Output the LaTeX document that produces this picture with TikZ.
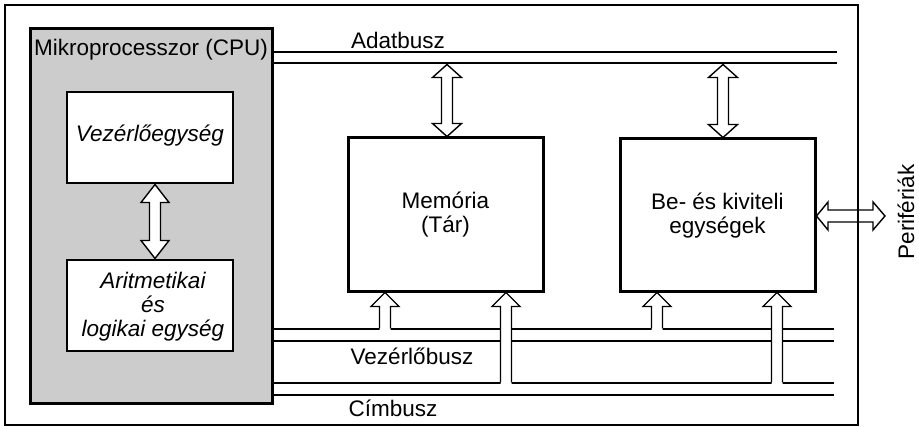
\documentclass[tikz,border=0pt]{standalone}
\usepackage{fontspec}
\setmainfont{Liberation Sans}
\begin{document}
\begin{tikzpicture}[x=1pt,y=-1pt,
  frame/.style={line width=1.5pt},
  cpubox/.style={draw,line width=3pt,fill=black!20},
  unitbox/.style={draw,line width=2.6pt,fill=white},
  busline/.style={line width=1.5pt},
  blk/.style={line width=1.4pt,line join=miter},
  lbl/.style={font=\fontsize{22.5}{24}\selectfont,inner sep=0pt},
  ilbl/.style={font=\fontsize{22.5}{24}\selectfont\itshape,inner sep=0pt,align=center}]
\useasboundingbox (0,0) rectangle (919,427);
\newcommand{\vdblarrow}[5]{% cx, ytop, ybot, headlen, halfwidth
  \filldraw[blk,fill=white] (#1,#2) -- (#1+#5,#2+#4) -- (#1+5.5,#2+#4) -- (#1+5.5,#3-#4)
   -- (#1+#5,#3-#4) -- (#1,#3) -- (#1-#5,#3-#4) -- (#1-5.5,#3-#4) -- (#1-5.5,#2+#4)
   -- (#1-#5,#2+#4) -- cycle;}
\newcommand{\upblkarrow}[3]{% cx, ytip, ybus
  \fill[white] (#1-5.5,#3+0.9) -- (#1-5.5,#2+14) -- (#1-14,#2+14) -- (#1,#2) -- (#1+14,#2+14)
   -- (#1+5.5,#2+14) -- (#1+5.5,#3+0.9) -- cycle;
  \draw[blk] (#1-5.5,#3-0.5) -- (#1-5.5,#2+14) -- (#1-14,#2+14) -- (#1,#2) -- (#1+14,#2+14)
   -- (#1+5.5,#2+14) -- (#1+5.5,#3-0.5);}
% outer frame
\draw[frame] (5,5) rectangle (858,425);
% CPU
\node[cpubox,minimum width=242pt,minimum height=375pt,inner sep=0pt] (cpu) at (151,216.5) {};
\node[lbl,anchor=west] (cputitle) at (34,50) {Mikroprocesszor (CPU)};
\node[unitbox,minimum width=166pt,minimum height=91pt,inner sep=0pt] (vez) at (150,137.5) {};
\node[ilbl] (veztext) at (150,136) {Vezérlőegység};
\node[unitbox,minimum width=166pt,minimum height=91pt,inner sep=0pt] (alu) at (150,305.5) {};
\node[ilbl] (alutext) at (153,307) {Aritmetikai\\és\\logikai egység};
\vdblarrow{155}{184.5}{258.5}{18}{14}
% buses
\coordinate (adatL1) at (272,52);  \coordinate (adatR1) at (837,52);
\coordinate (adatL2) at (272,63);  \coordinate (adatR2) at (837,63);
\coordinate (vezL1) at (272,329);  \coordinate (vezR1) at (834,329);
\coordinate (vezL2) at (272,341);  \coordinate (vezR2) at (834,341);
\coordinate (cimL1) at (272,383);  \coordinate (cimR1) at (834,383);
\coordinate (cimL2) at (272,395);  \coordinate (cimR2) at (834,395);
\draw[busline] (adatL1) -- (adatR1);
\draw[busline] (adatL2) -- (adatR2);
\draw[busline] (vezL1) -- (vezR1);
\draw[busline] (vezL2) -- (vezR2);
\draw[busline] (cimL1) -- (cimR1);
\draw[busline] (cimL2) -- (cimR2);
\node[lbl] (adatlbl) at (398,40) {Adatbusz};
\node[lbl] (vezlbl) at (412,356) {Vezérlőbusz};
\node[lbl] (cimlbl) at (393,408) {Címbusz};
% memory and I/O
\node[unitbox,line width=3pt,minimum width=195pt,minimum height=154pt,inner sep=0pt,align=center,font=\fontsize{22.5}{24}\selectfont] (mem) at (445.5,215) {Memória\\(Tár)};
\node[unitbox,line width=3pt,minimum width=195pt,minimum height=153pt,inner sep=0pt,align=center,font=\fontsize{22.5}{24}\selectfont] (io) at (717.5,215.5) {Be- és kiviteli\\egységek};
\vdblarrow{447}{64.5}{136.5}{13}{14.5}
\vdblarrow{723}{64.5}{137.5}{13}{14.5}
\upblkarrow{385}{292.5}{329}
\upblkarrow{506}{292.5}{383}
\upblkarrow{657}{292.5}{329}
\upblkarrow{777}{292.5}{383}
% peripherals
\draw[blk] (816.5,216) -- (828,202) -- (828,210) -- (873,210) -- (873,202) -- (885,216)
  -- (873,230) -- (873,222) -- (828,222) -- (828,230) -- cycle;
\node[lbl,rotate=90] (perif) at (906,212) {Perifériák};
\end{tikzpicture}
\end{document}
